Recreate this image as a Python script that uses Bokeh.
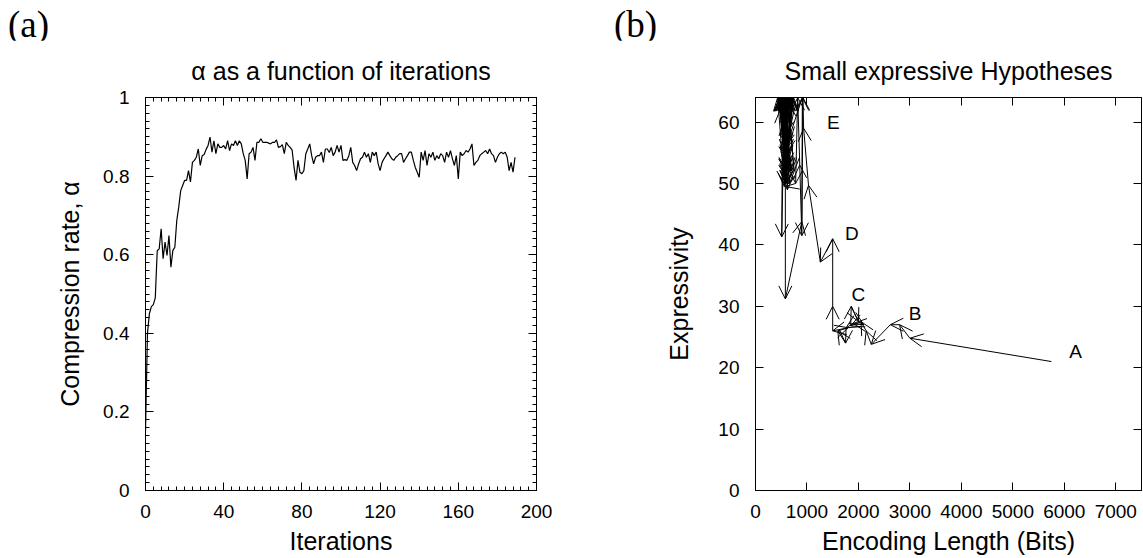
from bokeh.plotting import figure
from bokeh.models import (ColumnDataSource, LinearAxis, FixedTicker, NumeralTickFormatter,
                          CustomJSTickFormatter, Arrow, OpenHead, Range1d, Div)
from bokeh.layouts import row, column
from bokeh.embed import file_html
from bokeh.resources import INLINE
from bokeh.core.properties import value

# ---------------- data: panel (a) ----------------
iterations = list(range(190))
alpha = [
    0.150, 0.400, 0.450, 0.468, 0.473, 0.490, 0.610, 0.615, 0.666, 0.590,
    0.632, 0.598, 0.649, 0.568, 0.611, 0.619, 0.687, 0.721, 0.763, 0.776,
    0.789, 0.789, 0.814, 0.785, 0.835, 0.840, 0.848, 0.869, 0.827, 0.852,
    0.855, 0.868, 0.878, 0.899, 0.861, 0.890, 0.857, 0.882, 0.873, 0.873,
    0.878, 0.869, 0.890, 0.865, 0.882, 0.878, 0.890, 0.878, 0.890, 0.882,
    0.857, 0.840, 0.793, 0.857, 0.861, 0.873, 0.840, 0.886, 0.886, 0.895,
    0.886, 0.886, 0.886, 0.884, 0.882, 0.886, 0.886, 0.892, 0.873, 0.875,
    0.880, 0.857, 0.886, 0.878, 0.873, 0.866, 0.822, 0.789, 0.840, 0.810,
    0.806, 0.814, 0.857, 0.869, 0.882, 0.852, 0.831, 0.848, 0.852, 0.852,
    0.861, 0.835, 0.869, 0.869, 0.860, 0.873, 0.852, 0.861, 0.878, 0.861,
    0.878, 0.840, 0.842, 0.840, 0.852, 0.873, 0.835, 0.827, 0.814, 0.831,
    0.844, 0.848, 0.861, 0.848, 0.857, 0.835, 0.861, 0.852, 0.861, 0.831,
    0.814, 0.835, 0.844, 0.852, 0.861, 0.852, 0.844, 0.840, 0.848, 0.852,
    0.857, 0.857, 0.835, 0.844, 0.852, 0.861, 0.861, 0.840, 0.822, 0.810,
    0.797, 0.861, 0.840, 0.865, 0.827, 0.857, 0.848, 0.861, 0.840, 0.852,
    0.844, 0.857, 0.852, 0.835, 0.861, 0.848, 0.865, 0.844, 0.827, 0.852,
    0.793, 0.861, 0.852, 0.857, 0.865, 0.861, 0.869, 0.882, 0.827, 0.835,
    0.840, 0.852, 0.857, 0.861, 0.865, 0.857, 0.869, 0.857, 0.852, 0.835,
    0.848, 0.857, 0.861, 0.857, 0.861, 0.848, 0.814, 0.835, 0.810, 0.848,
]

a_x_ticks = [0, 40, 80, 120, 160, 200]
a_x_minor = list(range(0, 201, 4))
a_y_ticks = [0, 0.2, 0.4, 0.6, 0.8, 1]
a_y_minor = [i / 50 for i in range(51)]

# ---------------- data: panel (b) ----------------
bits = [5750, 3000, 2800, 2620, 2250, 2150, 2050, 1850, 1860, 2000,
        2100, 1900, 1760, 1750, 1600, 1800, 1500, 1500, 1500, 1260,
        1030, 935, 920, 900, 860, 820, 780, 580, 580, 900,
        910, 520, 510, 560, 620, 560, 700, 540, 650, 590,
        480, 700, 600, 520, 680, 610, 560, 720, 620, 500,
        660, 580, 700, 540, 640, 600, 680, 560, 620, 750,
        640, 450, 600, 470, 640, 430, 560, 740, 590, 460,
        680, 550, 620, 500, 600, 720, 570, 480, 650, 540,
        610, 700, 580, 520, 630, 460, 600]
expressivity = [21.0, 24.8, 27.0, 27.0, 23.8, 26.0, 27.5, 26.8, 30.0, 27.5,
                27.0, 27.2, 26.5, 24.0, 26.0, 26.5, 26.0, 30.0, 41.0, 37.2,
                49.7, 59.0, 64.0, 41.5, 53.0, 64.0, 50.0, 49.5, 31.2, 43.8,
                64.0, 54.0, 41.3, 64.0, 49.0, 64.0, 52.0, 60.0, 64.0, 50.0,
                62.0, 64.0, 53.0, 64.0, 57.0, 64.0, 49.5, 64.0, 55.0, 64.0,
                50.0, 64.0, 60.0, 52.0, 64.0, 58.0, 64.0, 55.0, 64.0, 52.0,
                63.0, 64.0, 51.0, 64.0, 54.0, 64.0, 50.0, 64.0, 56.0, 64.0,
                52.0, 64.0, 50.0, 64.0, 54.0, 64.0, 51.0, 64.0, 55.0, 64.0,
                52.0, 64.0, 50.0, 64.0, 56.0, 64.0, 52.0]
point_labels = ["A", "B", "C", "D", "E"]
label_bits = [6220, 3100, 2000, 1870, 1510]
label_expr = [22.7, 28.8, 31.9, 41.8, 60.0]

b_x_ticks = [0, 1000, 2000, 3000, 4000, 5000, 6000, 7000]
b_y_ticks = [0, 10, 20, 30, 40, 50, 60]

panel_tags = ["(a)", "(b)"]

FONT = "Liberation Sans"
TICK_FS = "19px"
LAB_FS = "25px"
TAG_H = 40


def style_axis(ax, ticks, minor, shown=True, label_standoff=14, axis_label_standoff=5):
    ax.ticker = FixedTicker(ticks=ticks, minor_ticks=minor)
    ax.major_tick_in = 8
    ax.major_tick_out = 0
    ax.minor_tick_in = 4 if minor else 0
    ax.minor_tick_out = 0
    ax.axis_line_color = "black"
    ax.major_tick_line_color = "black"
    ax.minor_tick_line_color = "black"
    ax.major_label_text_font = FONT
    ax.major_label_text_color = "black"
    ax.axis_label_text_font = FONT
    ax.axis_label_text_font_style = "normal"
    ax.axis_label_text_font_size = LAB_FS
    ax.axis_label_text_color = "black"
    if shown:
        ax.major_label_text_font_size = TICK_FS
        ax.major_label_standoff = label_standoff
        ax.axis_label_standoff = axis_label_standoff
    else:
        ax.formatter = CustomJSTickFormatter(code="return ''")
        ax.major_label_text_font_size = "1px"
        ax.major_label_standoff = 0
        ax.axis_label = None


def make_fig(title, xr, yr, fw, fh, bl, br, bt, bb):
    p = figure(frame_width=fw, frame_height=fh, x_range=xr, y_range=yr,
               output_backend="svg", toolbar_location=None,
               min_border_left=bl, min_border_right=br,
               min_border_top=bt, min_border_bottom=bb,
               background_fill_color="white", border_fill_color="white")
    p.title.text = title
    p.title.align = "center"
    p.title.text_font = FONT
    p.title.text_font_size = LAB_FS
    p.title.text_font_style = "normal"
    p.title.text_color = "black"
    p.title.standoff = 25
    p.xgrid.visible = False
    p.ygrid.visible = False
    p.outline_line_color = "black"
    return p


# ---------------- panel (a) ----------------
p1 = make_fig("\u03b1 as a function of iterations", Range1d(0, 200), Range1d(0, 1),
              391, 393, 145, 72, 97 - TAG_H, 68)
style_axis(p1.xaxis[0], a_x_ticks, a_x_minor, label_standoff=14, axis_label_standoff=6)
style_axis(p1.yaxis[0], a_y_ticks, a_y_minor, label_standoff=16, axis_label_standoff=16)
p1.xaxis[0].axis_label = "Iterations"
p1.yaxis[0].axis_label = "Compression rate, \u03b1"
p1.yaxis[0].formatter = NumeralTickFormatter(format="0.[0]")
top1 = LinearAxis()
right1 = LinearAxis()
style_axis(top1, a_x_ticks, a_x_minor, shown=False)
style_axis(right1, a_y_ticks, a_y_minor, shown=False)
p1.add_layout(top1, "above")
p1.add_layout(right1, "right")
p1.line(iterations, alpha, line_color="black", line_width=1.2)

# ---------------- panel (b) ----------------
p2 = make_fig("Small expressive Hypotheses", Range1d(0, 7500), Range1d(0, 64),
              386, 393, 147, 1, 97 - TAG_H, 68)
style_axis(p2.xaxis[0], b_x_ticks, [], label_standoff=14, axis_label_standoff=6)
style_axis(p2.yaxis[0], b_y_ticks, [], label_standoff=16, axis_label_standoff=22)
p2.xaxis[0].axis_label = "Encoding Length (Bits)"
p2.yaxis[0].axis_label = "Expressivity"
top2 = LinearAxis()
right2 = LinearAxis()
style_axis(top2, b_x_ticks, [], shown=False)
style_axis(right2, b_y_ticks, [], shown=False)
p2.add_layout(top2, "above")
p2.add_layout(right2, "right")

arrow_src = ColumnDataSource(dict(x0=bits[:-1], y0=expressivity[:-1],
                                  x1=bits[1:], y1=expressivity[1:]))
p2.add_layout(Arrow(source=arrow_src, x_start="x0", y_start="y0", x_end="x1", y_end="y1",
                    line_color="black", line_width=1,
                    end=OpenHead(size=13, line_color="black", line_width=1)))
p2.text(x=label_bits, y=label_expr, text=point_labels, text_font=value(FONT),
        text_font_size=TICK_FS, text_align="center", text_baseline="middle",
        text_color="black")

# ---------------- panel tags ----------------
tag_style = {"font-family": "'Liberation Serif', serif", "font-size": "37px",
             "line-height": "37px", "color": "black", "box-sizing": "border-box"}
tag_a = Div(text=panel_tags[0], width=608, height=TAG_H, margin=0,
            styles=dict(tag_style, **{"padding-left": "8px", "padding-top": "6px"}))
tag_b = Div(text=panel_tags[1], width=534, height=TAG_H, margin=0,
            styles=dict(tag_style, **{"padding-left": "6px", "padding-top": "6px"}))

layout = column(row(tag_a, tag_b), row(p1, p2))
open("out.html", "w").write(file_html(layout, INLINE))
